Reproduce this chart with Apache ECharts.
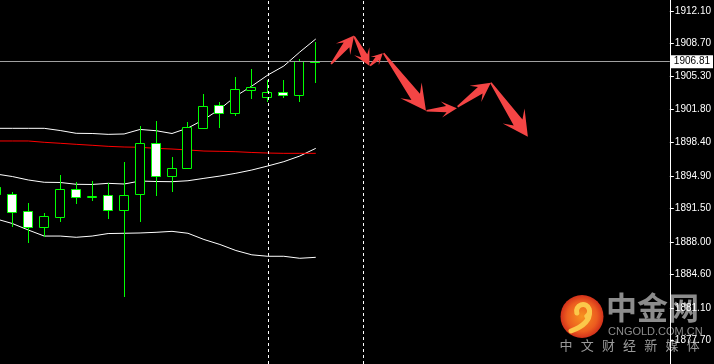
<!DOCTYPE html>
<html><head><meta charset="utf-8">
<script src="https://cdn.jsdelivr.net/npm/echarts@6/dist/echarts.min.js"></script>
<style>html,body{margin:0;padding:0;background:#000;}#c{width:714px;height:364px;}</style>
</head><body><div id="c"></div>
<script>
// bar indices (0 = first fully visible candle)
const bars  = [-1,0,1,2,3,4,5,6,7,8,9,10,11,12,13,14,15,16,17,18,19];
const open  = [1893.70,1892.97,1891.20,1889.59,1890.64,1893.50,1892.66,1892.87,1891.31,1892.97,1898.30,1894.92,1895.69,1899.92,1902.26,1901.49,1903.89,1903.10,1903.65,1903.30,1906.90];
const close = [1892.97,1891.16,1889.59,1890.68,1893.50,1892.66,1892.85,1891.31,1892.87,1898.30,1894.85,1895.69,1899.96,1902.16,1901.43,1903.93,1904.14,1903.65,1903.30,1906.85,1906.81];
const high  = [1893.94,1893.21,1892.07,1891.02,1894.99,1894.26,1894.36,1894.12,1896.34,1900.10,1900.62,1896.87,1900.52,1903.44,1902.60,1905.21,1906.05,1904.90,1904.90,1907.09,1908.87];
const low   = [1892.69,1889.59,1887.92,1888.55,1890.12,1891.99,1892.31,1890.37,1882.29,1890.12,1892.83,1893.25,1895.60,1899.85,1899.92,1901.18,1902.92,1902.64,1903.05,1902.64,1904.62];

const bbUpper  = [1899.86,1899.86,1899.86,1899.86,1899.63,1899.34,1899.32,1899.23,1899.27,1899.74,1899.61,1899.32,1899.89,1900.78,1901.87,1903.23,1904.27,1905.42,1906.36,1907.82,1909.18];
const bbMiddle = [1895.09,1894.83,1894.47,1894.23,1894.21,1894.02,1894.00,1894.12,1894.05,1894.36,1894.31,1894.29,1894.39,1894.64,1894.88,1895.17,1895.51,1895.93,1896.38,1896.97,1897.77];
const bbLower  = [1890.40,1889.93,1889.25,1888.62,1888.62,1888.49,1888.62,1888.88,1888.91,1888.94,1889.01,1889.11,1888.91,1888.26,1887.74,1887.11,1886.66,1886.51,1886.51,1886.30,1886.40];
const maRed    = [1898.54,1898.54,1898.54,1898.40,1898.30,1898.19,1898.09,1897.98,1897.91,1897.88,1897.77,1897.70,1897.60,1897.49,1897.46,1897.42,1897.34,1897.28,1897.25,1897.25,1897.25];

const tickValues = [1912.10,1908.70,1905.30,1901.80,1898.40,1894.90,1891.50,1888.00,1884.60,1881.10,1877.70];
const currentPrice = 1906.81;
const markerBars = [16, 22];

// hand-drawn forecast arrows (bar index, price)
const arrowFrom = [[19.96,1906.57],[21.40,1909.45],[22.40,1906.39],[23.25,1907.69],[25.93,1901.70],[27.88,1902.11],[29.96,1904.62]];
const arrowTo   = [[21.40,1909.54],[22.36,1906.39],[23.19,1907.69],[25.90,1901.70],[27.84,1901.95],[29.96,1904.62],[32.28,1898.98]];

const chart = echarts.init(document.getElementById('c'), null, {renderer:'canvas'});

function renderCandle(params, api){
  const k = api.value(0);
  const o = api.value(1), c = api.value(2), l = api.value(3), h = api.value(4);
  const x = api.coord([k, o])[0];
  const yO = api.coord([k, o])[1], yC = api.coord([k, c])[1];
  const yL = api.coord([k, l])[1], yH = api.coord([k, h])[1];
  const cx = Math.floor(x) + 0.5;
  const top = Math.round(Math.min(yO, yC)) + 0.5;
  const bot = Math.round(Math.max(yO, yC)) + 0.5;
  const bull = c > o;
  return {type:'group', children:[
    {type:'line', shape:{x1:cx, y1:Math.round(yH), x2:cx, y2:Math.round(yL)}, style:{stroke:'#00ff00', lineWidth:1}},
    {type:'rect', shape:{x:cx-5, y:top, width:9, height:Math.max(bot-top,1)}, style:{fill: bull ? '#000' : '#fff', stroke:'#00ff00', lineWidth:1}}
  ]};
}

function renderArrow(params, api){
  const a = api.coord([api.value(0), api.value(1)]);
  const b = api.coord([api.value(2), api.value(3)]);
  const dx = b[0]-a[0], dy = b[1]-a[1];
  const L = Math.hypot(dx, dy);
  const ux = dx/L, uy = dy/L, nx = -uy, ny = ux;
  const hl = Math.min(24, Math.max(10, 0.32*L + 5));
  const hw = hl*0.55, ws = hl*0.22;
  const P = (s, t) => [a[0]+ux*s+nx*t, a[1]+uy*s+ny*t];
  return {type:'polygon', shape:{points:[P(0,0.8), P(L-hl*0.72, ws), P(L-hl*1.05, hw), P(L,0), P(L-hl*1.05,-hw), P(L-hl*0.72,-ws), P(0,-0.8)]},
    style:{fill:'#f44545'}};
}

const wmChars = '中文财经新媒体'.split('');
const graphics = [
  {type:'circle', z:1, shape:{cx:582, cy:316.5, r:21.5},
    style:{fill:new echarts.graphic.RadialGradient(0.5,0.5,0.5,[{offset:0,color:'#f7931f'},{offset:0.7,color:'#ec5c1f'},{offset:1,color:'#d2301b'}])}},
  {type:'arc', z:2, shape:{cx:583, cy:311, r:6.5, startAngle:Math.PI*0.9, endAngle:Math.PI*2.3, clockwise:true},
    style:{fill:null, stroke:'#fbc84a', lineWidth:5, lineCap:'round'}},
  {type:'bezierCurve', z:2, shape:{x1:589.5, y1:312, cpx1:590, cpy1:324, x2:571, y2:331},
    style:{fill:null, stroke:'#fbc84a', lineWidth:5, lineCap:'round'}},
  {type:'text', z:1, style:{text:'中金网', x:606, y:292, font:'bold 31px "Noto Sans CJK SC"', fill:'#8c8c8c'}},
  {type:'text', z:1, style:{text:'CNGOLD.COM.CN', x:608, y:326, font:'11px "Liberation Sans"', fill:'#8c8c8c'}}
];
wmChars.forEach((ch, i) => graphics.push({type:'text', z:1, style:{text:ch, x:559.5 + i*21.2, y:339, font:'13px "Noto Sans CJK SC"', fill:'#9a9a9a'}}));

const lineSeries = (data, color) => ({
  type:'line', data: bars.map((b,i)=>[b, data[i]]), symbol:'none', silent:true,
  lineStyle:{color, width:1}, z:3
});

chart.setOption({
  backgroundColor:'#000',
  animation:false,
  grid:{left:0, right:43, top:0, bottom:0},
  xAxis:{type:'value', min:-0.769, max:41.169, show:false},
  yAxis:{type:'value', position:'right', min:1875.27, max:1913.248, z:5,
    axisLine:{show:true, onZero:false, lineStyle:{color:'#ffffff', width:1}},
    axisTick:{show:true, inside:false, length:4, lineStyle:{color:'#ffffff'}, customValues:tickValues},
    axisLabel:{show:true, color:'#ffffff', fontSize:10, fontFamily:'Liberation Sans', margin:5,
      customValues:tickValues, formatter:v => v.toFixed(2)},
    splitLine:{show:false}
  },
  graphic: graphics,
  series:[
    {type:'line', data:[], symbol:'none', z:2,
      markLine:{silent:true, symbol:['none','none'], animation:false,
        data:[
          {yAxis:currentPrice, lineStyle:{color:'#a0a0a0', width:1, type:'solid'},
            label:{show:true, position:'end', distance:1, formatter:currentPrice.toFixed(2), color:'#000', backgroundColor:'#fff',
              padding:[2,3,1,3], fontSize:10, fontFamily:'Liberation Sans'}},
          ...markerBars.map(k => ({xAxis:k, lineStyle:{color:'#ffffff', width:1, type:[3,3]}, label:{show:false}}))
        ]}},
    lineSeries(bbUpper, '#ffffff'),
    lineSeries(bbMiddle, '#ffffff'),
    lineSeries(bbLower, '#ffffff'),
    lineSeries(maRed, '#ff0000'),
    {type:'custom', z:4, clip:true, renderItem:renderCandle, encode:{x:0, y:[1,2,3,4]},
      data: bars.map((b,i)=>[b, open[i], close[i], low[i], high[i]])},
    {type:'custom', z:6, renderItem:renderArrow, encode:{x:[0,2], y:[1,3]},
      data: arrowFrom.map((f,i)=>[f[0], f[1], arrowTo[i][0], arrowTo[i][1]])}
  ]
});
</script></body></html>
